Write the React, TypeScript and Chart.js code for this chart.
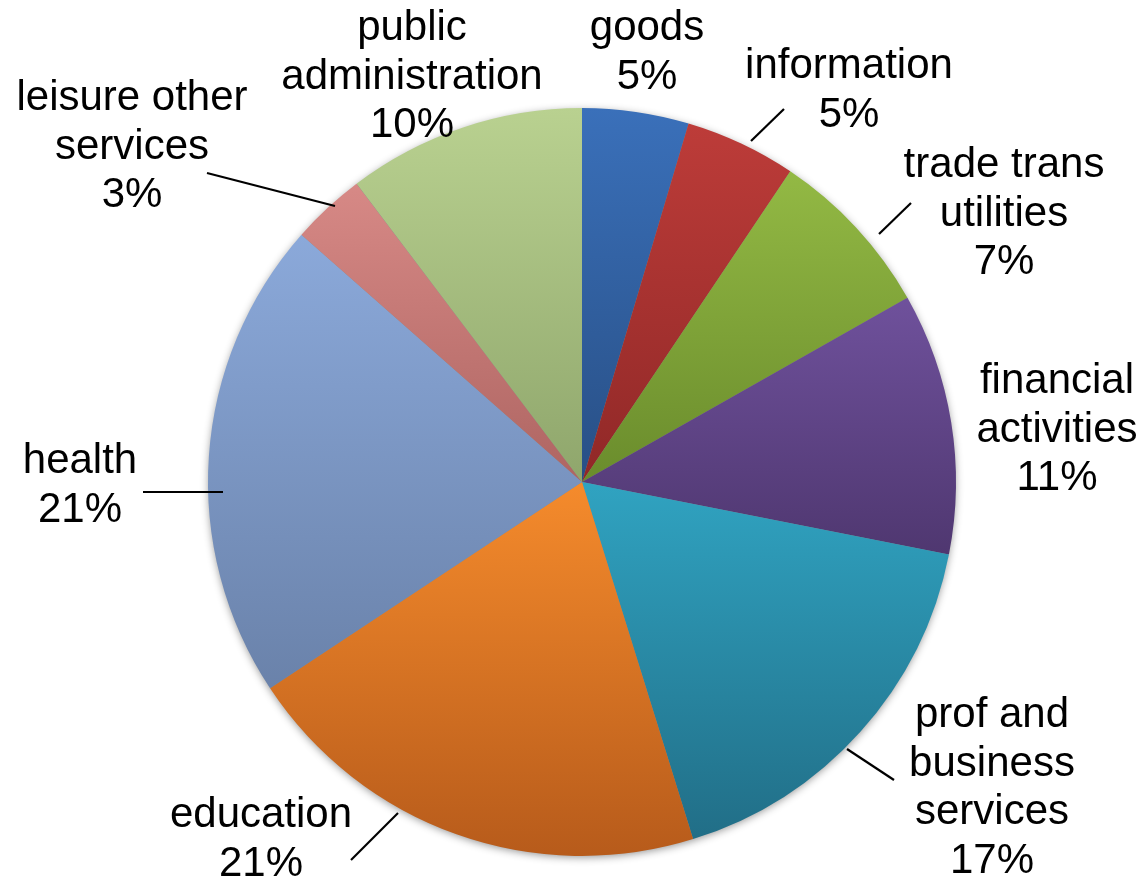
import React, { useEffect, useRef } from "react";
import { Chart, registerables } from "chart.js";

Chart.register(...registerables);

// ---- data ----
const categories = [
  "goods",
  "information",
  "trade trans utilities",
  "financial activities",
  "prof and business services",
  "education",
  "health",
  "leisure other services",
  "public administration",
];
const shares = [4.6, 4.8, 7.4, 11.3, 17.1, 20.5, 20.8, 3.2, 10.3];

// ---- styles (gradient top / bottom per slice) ----
const topColors = ["#3A70BA", "#BD3C39", "#93B944", "#6F519C", "#30A3C1", "#F58B2C", "#8BA9DA", "#D78986", "#B9D190"];
const bottomColors = ["#284F85", "#902827", "#6A8C2C", "#4F3770", "#216E87", "#B75B1B", "#6A82AA", "#AE6562", "#8FA66C"];

// label layout: lines of the name, centre x, first baseline, optional leader line
type LabelLayout = { lines: string[]; x: number; y: number; leader?: [number, number, number, number] };
const labelLayout: LabelLayout[] = [
  { lines: ["goods"], x: 647, y: 40 },
  { lines: ["information"], x: 849, y: 78, leader: [751, 141, 784, 109] },
  { lines: ["trade trans", "utilities"], x: 1004, y: 177, leader: [879, 234, 911, 203] },
  { lines: ["financial", "activities"], x: 1057, y: 393 },
  { lines: ["prof and", "business", "services"], x: 992, y: 727, leader: [847, 749, 894, 780] },
  { lines: ["education"], x: 261, y: 827, leader: [398, 813, 351, 860] },
  { lines: ["health"], x: 80, y: 473, leader: [143, 492, 223, 492] },
  { lines: ["leisure other", "services"], x: 132, y: 110, leader: [207, 173, 335, 206] },
  { lines: ["public", "administration"], x: 412, y: 40 },
];
const LINE_STEP = 48.7;
const FONT = '42px "Liberation Sans", Arial, sans-serif';

function sliceAngles(i: number) {
  const total = shares.reduce((a, b) => a + b, 0);
  let cum = 0;
  for (let k = 0; k < i; k++) cum += shares[k];
  const a0 = -Math.PI / 2 + (2 * Math.PI * cum) / total;
  const a1 = -Math.PI / 2 + (2 * Math.PI * (cum + shares[i])) / total;
  return [a0, a1];
}

function gradientFor(context: any) {
  const chart = context.chart;
  const area = chart.chartArea;
  const i = context.dataIndex;
  if (!area || i === undefined) return topColors[i ?? 0];
  const cx = (area.left + area.right) / 2;
  const cy = (area.top + area.bottom) / 2;
  const r = Math.min(area.right - area.left, area.bottom - area.top) / 2;
  const [a0, a1] = sliceAngles(i);
  const ys = [cy, cy + r * Math.sin(a0), cy + r * Math.sin(a1)];
  for (let n = -2; n <= 2; n++) {
    const down = Math.PI / 2 + 2 * Math.PI * n;
    const up = -Math.PI / 2 + 2 * Math.PI * n;
    if (down > a0 && down < a1) ys.push(cy + r);
    if (up > a0 && up < a1) ys.push(cy - r);
  }
  const y0 = Math.min(...ys);
  const y1 = Math.max(...ys);
  const g = chart.ctx.createLinearGradient(0, y0, 0, y1);
  g.addColorStop(0, topColors[i]);
  g.addColorStop(1, bottomColors[i]);
  return g;
}

const shadowPlugin = {
  id: "pieShadow",
  beforeDatasetsDraw(chart: any) {
    const arc = chart.getDatasetMeta(0).data[0];
    if (!arc) return;
    const { x, y, outerRadius } = arc;
    const ctx = chart.ctx;
    ctx.save();
    ctx.shadowColor = "rgba(0,0,0,0.45)";
    ctx.shadowBlur = 9;
    ctx.shadowOffsetX = 0;
    ctx.shadowOffsetY = 2;
    ctx.beginPath();
    ctx.arc(x, y, outerRadius - 1, 0, Math.PI * 2);
    ctx.fillStyle = "#888";
    ctx.fill();
    ctx.restore();
  },
};

const labelPlugin = {
  id: "pieLabels",
  afterDatasetsDraw(chart: any) {
    const ctx = chart.ctx;
    const total = shares.reduce((a, b) => a + b, 0);
    ctx.save();
    ctx.font = FONT;
    ctx.fillStyle = "#000";
    ctx.textAlign = "center";
    ctx.textBaseline = "alphabetic";
    labelLayout.forEach((lay, i) => {
      const pct = Math.round((shares[i] / total) * 100) + "%";
      const lines = [...lay.lines, pct];
      lines.forEach((t, k) => ctx.fillText(t, lay.x, lay.y + k * LINE_STEP));
      if (lay.leader) {
        const [x0, y0, x1, y1] = lay.leader;
        ctx.beginPath();
        ctx.moveTo(x0, y0);
        ctx.lineTo(x1, y1);
        ctx.strokeStyle = "#000";
        ctx.lineWidth = 2.2;
        ctx.stroke();
      }
    });
    ctx.restore();
  },
};

export default function App() {
  const ref = useRef<HTMLCanvasElement | null>(null);
  useEffect(() => {
    if (!ref.current) return;
    const chart = new Chart(ref.current, {
      type: "pie",
      data: {
        labels: categories,
        datasets: [
          {
            data: shares,
            backgroundColor: (c: any) => gradientFor(c),
            borderWidth: 0,
          },
        ],
      },
      options: {
        responsive: false,
        animation: false,
        devicePixelRatio: 1,
        layout: { padding: { left: 208, right: 188, top: 108, bottom: 24 } },
        plugins: {
          legend: { display: false },
          tooltip: { enabled: false },
          title: { display: false },
        },
      },
      plugins: [shadowPlugin, labelPlugin],
    });
    return () => chart.destroy();
  }, []);
  return (
    <div style={{ position: "fixed", left: 0, top: 0, width: 1144, height: 880, background: "#fff" }}>
      <canvas ref={ref} width={1144} height={880} />
    </div>
  );
}
